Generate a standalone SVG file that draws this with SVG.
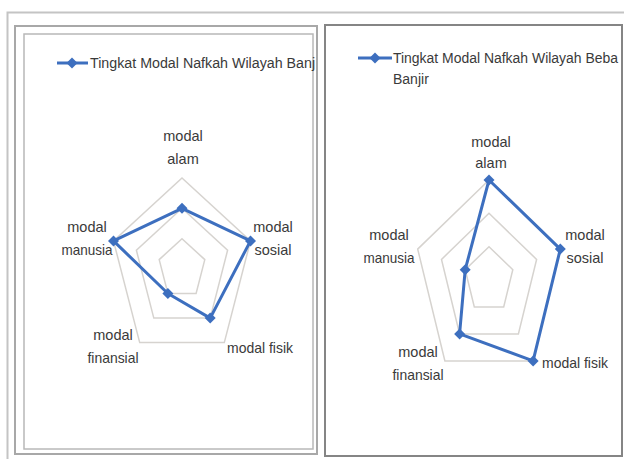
<svg xmlns="http://www.w3.org/2000/svg" width="624" height="459" viewBox="0 0 624 459">
<style>
.t{font-family:"Liberation Sans",Arial,sans-serif;font-size:14.5px;fill:#3a3a3a;}
.lg{font-size:14px;}
.c{text-anchor:middle;}
.grid{fill:none;stroke:#d6d3cf;stroke-width:1.5;}
.series{fill:none;stroke:#3d6fbf;stroke-width:3;stroke-linejoin:round;}
.mk{fill:#3d6fbf;}
</style>
<defs>
<path id="dm" d="M0,-5.5 L5.5,0 0,5.5 -5.5,0Z"/>
<clipPath id="clipL"><rect x="24" y="34" width="291" height="416"/></clipPath>
</defs>
<rect width="624" height="459" fill="#ffffff"/>
<g id="frames" fill="none">
<path d="M7.5,470 V12.5 H630" stroke="#c4c4c4" stroke-width="2"/>
<rect x="15" y="26" width="302" height="428" stroke="#a8a8a8" stroke-width="2"/>
<rect x="24" y="34" width="289" height="415" stroke="#b8b8b8" stroke-width="1.5"/>
<rect x="325" y="25" width="297" height="431" stroke="#858585" stroke-width="2"/>
</g>
<g id="chart-left">
<g id="grid-left">
<polygon class="grid" points="182,178 250.5,240.9 224.3,342.6 139.7,342.6 113.5,240.9"/>
<polygon class="grid" points="182,208.3 227.6,250.3 210.2,318.1 153.8,318.1 136.4,250.3"/>
<polygon class="grid" points="182,238.7 204.8,259.6 196.1,293.5 167.9,293.5 159.2,259.6"/>
</g>
<g id="series-left">
<polygon class="series" points="182,208.3 250.5,240.9 210.2,318.1 167.9,293.5 113.5,240.9"/>
<use href="#dm" class="mk" x="182" y="208.3"/>
<use href="#dm" class="mk" x="250.5" y="240.9"/>
<use href="#dm" class="mk" x="210.2" y="318.1"/>
<use href="#dm" class="mk" x="167.9" y="293.5"/>
<use href="#dm" class="mk" x="113.5" y="240.9"/>
</g>
<g id="legend-left" clip-path="url(#clipL)">
<line x1="57" y1="63" x2="88" y2="63" stroke="#3d6fbf" stroke-width="3"/>
<use href="#dm" class="mk" x="72" y="63"/>
<text class="t lg" x="90" y="68" textLength="233" lengthAdjust="spacingAndGlyphs">Tingkat Modal Nafkah Wilayah Banjir</text>
</g>
<g id="labels-left">
<text class="t c" x="183" y="141">modal</text>
<text class="t c" x="183" y="164">alam</text>
<text class="t c" x="273" y="232">modal</text>
<text class="t c" x="273" y="255">sosial</text>
<text class="t c" x="260" y="353" textLength="66" lengthAdjust="spacingAndGlyphs">modal fisik</text>
<text class="t c" x="113" y="340">modal</text>
<text class="t c" x="113" y="363" textLength="51" lengthAdjust="spacingAndGlyphs">finansial</text>
<text class="t c" x="87" y="232">modal</text>
<text class="t c" x="87" y="255" textLength="51" lengthAdjust="spacingAndGlyphs">manusia</text>
</g>
</g>
<g id="chart-right">
<g id="grid-right">
<polygon class="grid" points="489,180 560.3,249.1 533.1,360.9 444.9,360.9 417.7,249.1"/>
<polygon class="grid" points="489,213.3 536.6,259.4 518.4,333.9 459.6,333.9 441.5,259.4"/>
<polygon class="grid" points="489,246.7 512.8,269.7 503.7,307 474.3,307 465.2,269.7"/>
</g>
<g id="series-right">
<polygon class="series" points="489,180 560.3,249.1 533.1,360.9 459.6,333.9 465.2,269.7"/>
<use href="#dm" class="mk" x="489" y="180"/>
<use href="#dm" class="mk" x="560.3" y="249.1"/>
<use href="#dm" class="mk" x="533.1" y="360.9"/>
<use href="#dm" class="mk" x="459.6" y="333.9"/>
<use href="#dm" class="mk" x="465.2" y="269.7"/>
</g>
<g id="legend-right">
<line x1="358" y1="58" x2="392" y2="58" stroke="#3d6fbf" stroke-width="3"/>
<use href="#dm" class="mk" x="375" y="58"/>
<text class="t lg" x="393" y="63" textLength="225" lengthAdjust="spacingAndGlyphs">Tingkat Modal Nafkah Wilayah Beba</text>
<text class="t lg" x="393" y="84">Banjir</text>
</g>
<g id="labels-right">
<text class="t c" x="491" y="147">modal</text>
<text class="t c" x="491" y="168">alam</text>
<text class="t c" x="585" y="240">modal</text>
<text class="t c" x="585" y="263">sosial</text>
<text class="t c" x="575" y="368" textLength="66" lengthAdjust="spacingAndGlyphs">modal fisik</text>
<text class="t c" x="418" y="357">modal</text>
<text class="t c" x="418" y="380" textLength="51" lengthAdjust="spacingAndGlyphs">finansial</text>
<text class="t c" x="389" y="240">modal</text>
<text class="t c" x="389" y="263" textLength="51" lengthAdjust="spacingAndGlyphs">manusia</text>
</g>
</g>
</svg>
